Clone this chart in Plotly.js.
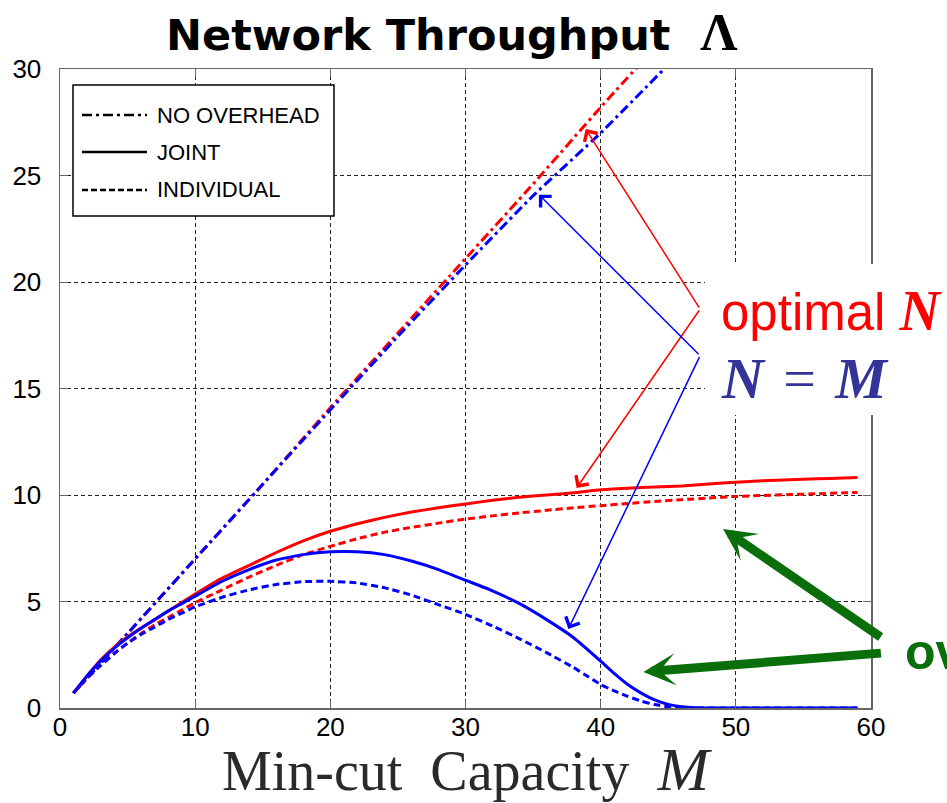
<!DOCTYPE html>
<html><head><meta charset="utf-8">
<script src="https://cdn.plot.ly/plotly-3.0.1.min.js"></script>
<style>html,body{margin:0;padding:0;background:#fff}#chart{width:947px;height:803px}</style>
</head><body><div id="chart"></div>
<script>
// ---- data ----
const noOverheadOptM = [1, 5, 10, 15, 20, 25, 30, 35, 40, 45];
const noOverheadOptimal = [0.7, 3.5, 7.0, 10.5, 14.1, 17.6, 21.1, 24.6, 28.2, 31.7];
const noOverheadNMM  = [1, 5, 10, 15, 20, 25, 30, 35, 40, 45];
const noOverheadNM      = [0.7, 3.5, 7.0, 10.5, 14.0, 17.45, 20.8, 24.05, 27.0, 30.2];

const jointOptimalM = [1,2,3,4,5,6,7,8,9,10,12,14,16,18,20,22,24,26,28,30,32,34,36,38,40,42,44,46,48,50,52,54,56,58,59];
const jointOptimal  = [0.7,1.5,2.25,2.85,3.35,3.75,4.15,4.55,4.95,5.35,6.1,6.7,7.3,7.85,8.3,8.65,8.95,9.2,9.4,9.58,9.75,9.9,10.0,10.1,10.25,10.32,10.38,10.42,10.52,10.6,10.67,10.72,10.76,10.8,10.82];

const jointNMM = [1,2,3,4,5,6,7,8,9,10,12,14,16,18,20,22,24,26,28,30,32,34,36,38,40,41,42,43,44,45,46,47,48,50,55,59];
const jointNM  = [0.7,1.5,2.2,2.8,3.3,3.75,4.15,4.55,4.9,5.25,5.95,6.5,6.95,7.2,7.33,7.33,7.2,6.9,6.5,6.0,5.5,4.9,4.15,3.3,2.2,1.62,1.1,0.7,0.38,0.17,0.06,0.01,0,0,0,0];

const individualOptimalM = [1,2,3,4,5,6,7,8,9,10,12,14,16,18,20,22,24,26,28,30,32,34,36,38,40,42,44,46,48,50,52,54,56,58,59];
const individualOptimal  = [0.7,1.4,2.0,2.55,3.05,3.5,3.9,4.25,4.6,4.94,5.55,6.15,6.7,7.2,7.59,7.95,8.25,8.48,8.68,8.87,9.02,9.16,9.28,9.4,9.5,9.6,9.7,9.78,9.86,9.93,9.98,10.02,10.06,10.1,10.12];

const individualNMM = [1,2,3,4,5,6,7,8,9,10,12,14,16,18,20,22,24,26,28,30,32,34,36,38,39,40,41,42,43,44,45,46,47,50,55,59];
const individualNM  = [0.7,1.4,2.0,2.55,3.05,3.45,3.8,4.15,4.45,4.75,5.2,5.55,5.8,5.93,5.95,5.87,5.65,5.3,4.85,4.4,3.85,3.25,2.6,1.9,1.5,1.1,0.8,0.55,0.32,0.16,0.06,0.01,0,0,0,0];

const legendLabels = ['NO OVERHEAD', 'JOINT', 'INDIVIDUAL'];
const xTicks = [0, 10, 20, 30, 40, 50, 60];
const yTicks = [0, 5, 10, 15, 20, 25, 30];

// ---- styles ----
const RED = '#ff0000', BLUE = '#0000ff', GREEN = '#0a6e0a';
const DASHDOT = '10px,4px,3px,4px';
const DASHED = '7px,4px';

function line(x, y, color, dash) {
  return {x: x, y: y, type: 'scatter', mode: 'lines', showlegend: false, hoverinfo: 'skip',
          line: {color: color, width: 3, dash: dash, shape: 'spline', smoothing: 0.4}};
}
const traces = [
  line(noOverheadOptM, noOverheadOptimal, RED, DASHDOT),
  line(noOverheadNMM, noOverheadNM, BLUE, DASHDOT),
  line(individualOptimalM, individualOptimal, RED, DASHED),
  line(individualNMM, individualNM, BLUE, DASHED),
  line(jointOptimalM, jointOptimal, RED, 'solid'),
  line(jointNMM, jointNM, BLUE, 'solid')
];

// plot area in pixels: left 60, right 871, top 69, bottom 708
const L = 60, W = 811, B = 708, H = 639;
const px = v => (v - L) / W;
const py = v => (B - v) / H;

const legendDash = [DASHDOT, 'solid', '6px,3px'];
const legendY = [115, 152, 190];

const shapes = [
  // white background behind the callout text
  {type: 'rect', xref: 'paper', yref: 'paper', x0: px(705), x1: px(960), y0: py(415), y1: py(264),
   fillcolor: '#ffffff', line: {width: 0}, layer: 'above'},
  // legend box
  {type: 'rect', xref: 'paper', yref: 'paper', x0: px(73), x1: px(334), y0: py(216), y1: py(85),
   fillcolor: '#ffffff', line: {color: '#000000', width: 1.5}, layer: 'above'}
];
legendLabels.forEach((t, i) => {
  shapes.push({type: 'line', xref: 'paper', yref: 'paper', x0: px(82), x1: px(147), y0: py(legendY[i]), y1: py(legendY[i]),
               line: {color: '#000000', width: 2.5, dash: legendDash[i]}, layer: 'above'});
});

const annotations = legendLabels.map((t, i) => ({
  xref: 'paper', yref: 'paper', x: px(155), y: py(legendY[i]), xanchor: 'left', yanchor: 'middle',
  text: t, showarrow: false, font: {family: 'Liberation Sans, Arial, sans-serif', size: 22, color: '#000'}
}));

// thin pointer arrows (tips on curves, tails at common vertices)
const redVertex = {x: 47.36, y: 18.73}, blueVertex = {x: 47.36, y: 16.54};
const pointer = (x, y, v, color) => ({
  x: x, y: y, xref: 'x', yref: 'y', ax: v.x, ay: v.y, axref: 'x', ayref: 'y',
  text: '', showarrow: true, arrowhead: 4, arrowsize: 2, arrowwidth: 1.5, arrowcolor: color, standoff: 0
});
annotations.push(pointer(38.89, 27.18, redVertex, RED));
annotations.push(pointer(38.22, 10.33, redVertex, RED));
annotations.push(pointer(35.43, 24.10, blueVertex, BLUE));
annotations.push(pointer(37.61, 3.71, blueVertex, BLUE));

// thick green arrows
annotations.push({x: 49.06, y: 8.40, xref: 'x', yref: 'y', ax: 159, ay: 109, text: '', showarrow: true,
  arrowhead: 3, arrowsize: 0.6, arrowwidth: 9, arrowcolor: GREEN, standoff: 0});
annotations.push({x: 43.16, y: 1.69, xref: 'x', yref: 'y', ax: 239, ay: -19, text: '', showarrow: true,
  arrowhead: 3, arrowsize: 0.6, arrowwidth: 9, arrowcolor: GREEN, standoff: 0});

// callout texts
annotations.push({xref: 'paper', yref: 'paper', x: px(719), y: py(311), xanchor: 'left', yanchor: 'middle', showarrow: false,
  text: 'optimal <span style="font-family:Liberation Serif;font-size:56px"><b><i>N</i></b></span>',
  font: {family: 'Liberation Sans, Arial, sans-serif', size: 51, color: RED}});
annotations.push({xref: 'paper', yref: 'paper', x: px(719), y: py(378), xanchor: 'left', yanchor: 'middle', showarrow: false,
  text: '<b><i>N</i></b>\u2004=\u2004<b><i>M</i></b>',
  font: {family: 'Liberation Serif, Times New Roman, serif', size: 58, color: '#333399'}});
annotations.push({xref: 'paper', yref: 'paper', x: px(903), y: py(652), xanchor: 'left', yanchor: 'middle', showarrow: false,
  text: '<b>overhead</b>',
  font: {family: 'Liberation Sans, Arial, sans-serif', size: 50, color: GREEN}});

const axisCommon = {
  showgrid: true, gridcolor: '#222222', gridwidth: 1, griddash: '4px,3px',
  showline: true, linecolor: '#666666', linewidth: 1.5, mirror: 'ticks',
  ticks: 'inside', ticklen: 8, tickcolor: '#666666', zeroline: false,
  tickfont: {family: 'Liberation Sans, Arial, sans-serif', size: 26, color: '#000'},
  fixedrange: true
};

const layout = {
  width: 947, height: 803,
  margin: {l: L, r: 947 - L - W, t: 69, b: 803 - B},
  paper_bgcolor: '#ffffff', plot_bgcolor: '#ffffff',
  showlegend: false,
  title: {
    text: 'Network Throughput\u00a0\u00a0<span style="font-family:Liberation Serif;font-size:52px">Λ</span>',
    font: {family: 'DejaVu Sans, Verdana, sans-serif', size: 43, color: '#000', weight: 'bold'},
    xref: 'container', x: 166 / 947, xanchor: 'left', yref: 'container', y: 1 - 35 / 803, yanchor: 'middle'
  },
  xaxis: Object.assign({}, axisCommon, {
    range: [0, 60], tickvals: xTicks, ticktext: xTicks.map(String), ticklabelstandoff: -5,
    title: {text: '\u00a0\u00a0Min-cut\u00a0 Capacity\u00a0 <i><span style="font-size:62px">M</span></i>', standoff: 16,
            font: {family: 'Liberation Serif, Times New Roman, serif', size: 56, color: '#2a2a2a'}}
  }),
  yaxis: Object.assign({}, axisCommon, {
    range: [0, 30], tickvals: yTicks, ticktext: yTicks.map(String), ticklabelstandoff: 12
  }),
  shapes: shapes,
  annotations: annotations
};

Plotly.newPlot('chart', traces, layout, {displayModeBar: false, staticPlot: true});
</script>
</body></html>
